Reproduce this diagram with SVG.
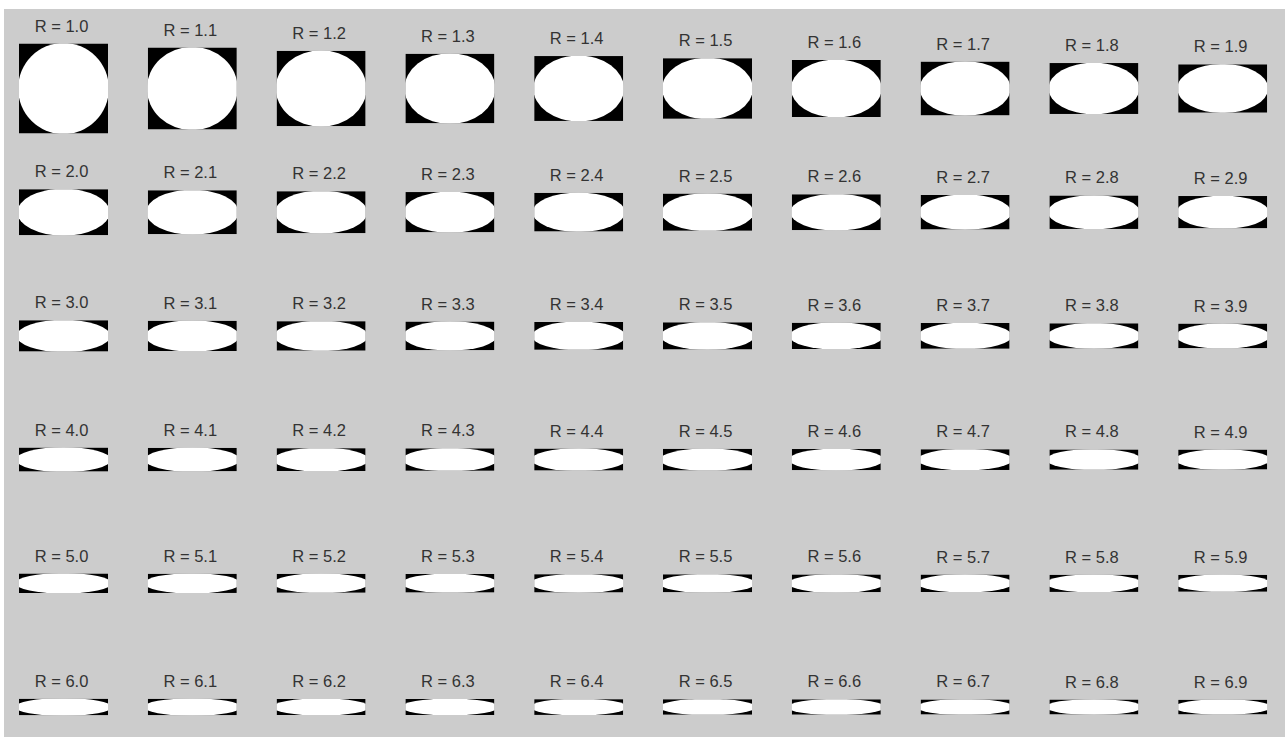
<svg xmlns="http://www.w3.org/2000/svg" width="1287" height="737" viewBox="0 0 1287 737">
<style>
.lb{font-family:"Liberation Sans",Arial,sans-serif;font-size:16.5px;fill:#333333;text-anchor:middle}
.bx{fill:#000000}
.el{fill:#ffffff}
</style>
<rect width="1287" height="737" fill="#ffffff"/>
<rect x="4" y="9" width="1281" height="728" fill="#cccccc"/>
<g id="connectors"/>
<!-- Row 1 -->
<g id="r1_0"><text class="lb" x="61.5" y="31.5">R = 1.0</text><svg x="19" y="43.5" width="89" height="90" viewBox="0 0 2 2" preserveAspectRatio="none"><rect class="bx" width="2" height="2"/><ellipse class="el" cx="1" cy="1" rx="1.02" ry="1.015"/></svg></g>
<g id="r1_1"><text class="lb" x="190.3" y="35.5">R = 1.1</text><svg x="147.8" y="47.5" width="89" height="82" viewBox="0 0 2 2" preserveAspectRatio="none"><rect class="bx" width="2" height="2"/><ellipse class="el" cx="1" cy="1" rx="1.02" ry="1.015"/></svg></g>
<g id="r1_2"><text class="lb" x="319.1" y="38.83">R = 1.2</text><svg x="276.6" y="50.83" width="89" height="75.33" viewBox="0 0 2 2" preserveAspectRatio="none"><rect class="bx" width="2" height="2"/><ellipse class="el" cx="1" cy="1" rx="1.02" ry="1.015"/></svg></g>
<g id="r1_3"><text class="lb" x="447.9" y="41.65">R = 1.3</text><svg x="405.4" y="53.65" width="89" height="69.69" viewBox="0 0 2 2" preserveAspectRatio="none"><rect class="bx" width="2" height="2"/><ellipse class="el" cx="1" cy="1" rx="1.02" ry="1.015"/></svg></g>
<g id="r1_4"><text class="lb" x="576.7" y="44.07">R = 1.4</text><svg x="534.2" y="56.07" width="89" height="64.86" viewBox="0 0 2 2" preserveAspectRatio="none"><rect class="bx" width="2" height="2"/><ellipse class="el" cx="1" cy="1" rx="1.02" ry="1.015"/></svg></g>
<g id="r1_5"><text class="lb" x="705.5" y="46.17">R = 1.5</text><svg x="663" y="58.17" width="89" height="60.67" viewBox="0 0 2 2" preserveAspectRatio="none"><rect class="bx" width="2" height="2"/><ellipse class="el" cx="1" cy="1" rx="1.02" ry="1.015"/></svg></g>
<g id="r1_6"><text class="lb" x="834.3" y="48">R = 1.6</text><svg x="791.8" y="60" width="89" height="57" viewBox="0 0 2 2" preserveAspectRatio="none"><rect class="bx" width="2" height="2"/><ellipse class="el" cx="1" cy="1" rx="1.02" ry="1.015"/></svg></g>
<g id="r1_7"><text class="lb" x="963.1" y="49.62">R = 1.7</text><svg x="920.6" y="61.62" width="89" height="53.76" viewBox="0 0 2 2" preserveAspectRatio="none"><rect class="bx" width="2" height="2"/><ellipse class="el" cx="1" cy="1" rx="1.02" ry="1.015"/></svg></g>
<g id="r1_8"><text class="lb" x="1091.9" y="51.06">R = 1.8</text><svg x="1049.4" y="63.06" width="89" height="50.89" viewBox="0 0 2 2" preserveAspectRatio="none"><rect class="bx" width="2" height="2"/><ellipse class="el" cx="1" cy="1" rx="1.02" ry="1.015"/></svg></g>
<g id="r1_9"><text class="lb" x="1220.7" y="52.34">R = 1.9</text><svg x="1178.2" y="64.34" width="89" height="48.32" viewBox="0 0 2 2" preserveAspectRatio="none"><rect class="bx" width="2" height="2"/><ellipse class="el" cx="1" cy="1" rx="1.02" ry="1.015"/></svg></g>
<!-- Row 2 -->
<g id="r2_0"><text class="lb" x="61.5" y="177.2">R = 2.0</text><svg x="19" y="189.2" width="89" height="46" viewBox="0 0 2 2" preserveAspectRatio="none"><rect class="bx" width="2" height="2"/><ellipse class="el" cx="1" cy="1" rx="1.035" ry="1.025"/></svg></g>
<g id="r2_1"><text class="lb" x="190.3" y="178.25">R = 2.1</text><svg x="147.8" y="190.25" width="89" height="43.9" viewBox="0 0 2 2" preserveAspectRatio="none"><rect class="bx" width="2" height="2"/><ellipse class="el" cx="1" cy="1" rx="1.035" ry="1.025"/></svg></g>
<g id="r2_2"><text class="lb" x="319.1" y="179.2">R = 2.2</text><svg x="276.6" y="191.2" width="89" height="42" viewBox="0 0 2 2" preserveAspectRatio="none"><rect class="bx" width="2" height="2"/><ellipse class="el" cx="1" cy="1" rx="1.035" ry="1.025"/></svg></g>
<g id="r2_3"><text class="lb" x="447.9" y="180.07">R = 2.3</text><svg x="405.4" y="192.07" width="89" height="40.26" viewBox="0 0 2 2" preserveAspectRatio="none"><rect class="bx" width="2" height="2"/><ellipse class="el" cx="1" cy="1" rx="1.035" ry="1.025"/></svg></g>
<g id="r2_4"><text class="lb" x="576.7" y="180.87">R = 2.4</text><svg x="534.2" y="192.87" width="89" height="38.67" viewBox="0 0 2 2" preserveAspectRatio="none"><rect class="bx" width="2" height="2"/><ellipse class="el" cx="1" cy="1" rx="1.035" ry="1.025"/></svg></g>
<g id="r2_5"><text class="lb" x="705.5" y="181.6">R = 2.5</text><svg x="663" y="193.6" width="89" height="37.2" viewBox="0 0 2 2" preserveAspectRatio="none"><rect class="bx" width="2" height="2"/><ellipse class="el" cx="1" cy="1" rx="1.035" ry="1.025"/></svg></g>
<g id="r2_6"><text class="lb" x="834.3" y="182.28">R = 2.6</text><svg x="791.8" y="194.28" width="89" height="35.85" viewBox="0 0 2 2" preserveAspectRatio="none"><rect class="bx" width="2" height="2"/><ellipse class="el" cx="1" cy="1" rx="1.035" ry="1.025"/></svg></g>
<g id="r2_7"><text class="lb" x="963.1" y="182.91">R = 2.7</text><svg x="920.6" y="194.91" width="89" height="34.59" viewBox="0 0 2 2" preserveAspectRatio="none"><rect class="bx" width="2" height="2"/><ellipse class="el" cx="1" cy="1" rx="1.035" ry="1.025"/></svg></g>
<g id="r2_8"><text class="lb" x="1091.9" y="183.49">R = 2.8</text><svg x="1049.4" y="195.49" width="89" height="33.43" viewBox="0 0 2 2" preserveAspectRatio="none"><rect class="bx" width="2" height="2"/><ellipse class="el" cx="1" cy="1" rx="1.035" ry="1.025"/></svg></g>
<g id="r2_9"><text class="lb" x="1220.7" y="184.03">R = 2.9</text><svg x="1178.2" y="196.03" width="89" height="32.34" viewBox="0 0 2 2" preserveAspectRatio="none"><rect class="bx" width="2" height="2"/><ellipse class="el" cx="1" cy="1" rx="1.035" ry="1.025"/></svg></g>
<!-- Row 3 -->
<g id="r3_0"><text class="lb" x="61.5" y="308.24">R = 3.0</text><svg x="19" y="320.24" width="89" height="31.33" viewBox="0 0 2 2" preserveAspectRatio="none"><rect class="bx" width="2" height="2"/><ellipse class="el" cx="1" cy="1" rx="1.05" ry="1.035"/></svg></g>
<g id="r3_1"><text class="lb" x="190.3" y="308.71">R = 3.1</text><svg x="147.8" y="320.71" width="89" height="30.39" viewBox="0 0 2 2" preserveAspectRatio="none"><rect class="bx" width="2" height="2"/><ellipse class="el" cx="1" cy="1" rx="1.05" ry="1.035"/></svg></g>
<g id="r3_2"><text class="lb" x="319.1" y="309.15">R = 3.2</text><svg x="276.6" y="321.15" width="89" height="29.5" viewBox="0 0 2 2" preserveAspectRatio="none"><rect class="bx" width="2" height="2"/><ellipse class="el" cx="1" cy="1" rx="1.05" ry="1.035"/></svg></g>
<g id="r3_3"><text class="lb" x="447.9" y="309.57">R = 3.3</text><svg x="405.4" y="321.57" width="89" height="28.67" viewBox="0 0 2 2" preserveAspectRatio="none"><rect class="bx" width="2" height="2"/><ellipse class="el" cx="1" cy="1" rx="1.05" ry="1.035"/></svg></g>
<g id="r3_4"><text class="lb" x="576.7" y="309.96">R = 3.4</text><svg x="534.2" y="321.96" width="89" height="27.88" viewBox="0 0 2 2" preserveAspectRatio="none"><rect class="bx" width="2" height="2"/><ellipse class="el" cx="1" cy="1" rx="1.05" ry="1.035"/></svg></g>
<g id="r3_5"><text class="lb" x="705.5" y="310.33">R = 3.5</text><svg x="663" y="322.33" width="89" height="27.14" viewBox="0 0 2 2" preserveAspectRatio="none"><rect class="bx" width="2" height="2"/><ellipse class="el" cx="1" cy="1" rx="1.05" ry="1.035"/></svg></g>
<g id="r3_6"><text class="lb" x="834.3" y="310.68">R = 3.6</text><svg x="791.8" y="322.68" width="89" height="26.44" viewBox="0 0 2 2" preserveAspectRatio="none"><rect class="bx" width="2" height="2"/><ellipse class="el" cx="1" cy="1" rx="1.05" ry="1.035"/></svg></g>
<g id="r3_7"><text class="lb" x="963.1" y="311.01">R = 3.7</text><svg x="920.6" y="323.01" width="89" height="25.78" viewBox="0 0 2 2" preserveAspectRatio="none"><rect class="bx" width="2" height="2"/><ellipse class="el" cx="1" cy="1" rx="1.05" ry="1.035"/></svg></g>
<g id="r3_8"><text class="lb" x="1091.9" y="311.32">R = 3.8</text><svg x="1049.4" y="323.32" width="89" height="25.16" viewBox="0 0 2 2" preserveAspectRatio="none"><rect class="bx" width="2" height="2"/><ellipse class="el" cx="1" cy="1" rx="1.05" ry="1.035"/></svg></g>
<g id="r3_9"><text class="lb" x="1220.7" y="311.62">R = 3.9</text><svg x="1178.2" y="323.62" width="89" height="24.56" viewBox="0 0 2 2" preserveAspectRatio="none"><rect class="bx" width="2" height="2"/><ellipse class="el" cx="1" cy="1" rx="1.05" ry="1.035"/></svg></g>
<!-- Row 4 -->
<g id="r4_0"><text class="lb" x="61.5" y="435.6">R = 4.0</text><svg x="19" y="447.6" width="89" height="24" viewBox="0 0 2 2" preserveAspectRatio="none"><rect class="bx" width="2" height="2"/><ellipse class="el" cx="1" cy="1" rx="1.065" ry="1.045"/></svg></g>
<g id="r4_1"><text class="lb" x="190.3" y="435.87">R = 4.1</text><svg x="147.8" y="447.87" width="89" height="23.46" viewBox="0 0 2 2" preserveAspectRatio="none"><rect class="bx" width="2" height="2"/><ellipse class="el" cx="1" cy="1" rx="1.065" ry="1.045"/></svg></g>
<g id="r4_2"><text class="lb" x="319.1" y="436.13">R = 4.2</text><svg x="276.6" y="448.13" width="89" height="22.95" viewBox="0 0 2 2" preserveAspectRatio="none"><rect class="bx" width="2" height="2"/><ellipse class="el" cx="1" cy="1" rx="1.065" ry="1.045"/></svg></g>
<g id="r4_3"><text class="lb" x="447.9" y="436.37">R = 4.3</text><svg x="405.4" y="448.37" width="89" height="22.47" viewBox="0 0 2 2" preserveAspectRatio="none"><rect class="bx" width="2" height="2"/><ellipse class="el" cx="1" cy="1" rx="1.065" ry="1.045"/></svg></g>
<g id="r4_4"><text class="lb" x="576.7" y="436.6">R = 4.4</text><svg x="534.2" y="448.6" width="89" height="22" viewBox="0 0 2 2" preserveAspectRatio="none"><rect class="bx" width="2" height="2"/><ellipse class="el" cx="1" cy="1" rx="1.065" ry="1.045"/></svg></g>
<g id="r4_5"><text class="lb" x="705.5" y="436.82">R = 4.5</text><svg x="663" y="448.82" width="89" height="21.56" viewBox="0 0 2 2" preserveAspectRatio="none"><rect class="bx" width="2" height="2"/><ellipse class="el" cx="1" cy="1" rx="1.065" ry="1.045"/></svg></g>
<g id="r4_6"><text class="lb" x="834.3" y="437.04">R = 4.6</text><svg x="791.8" y="449.04" width="89" height="21.13" viewBox="0 0 2 2" preserveAspectRatio="none"><rect class="bx" width="2" height="2"/><ellipse class="el" cx="1" cy="1" rx="1.065" ry="1.045"/></svg></g>
<g id="r4_7"><text class="lb" x="963.1" y="437.24">R = 4.7</text><svg x="920.6" y="449.24" width="89" height="20.72" viewBox="0 0 2 2" preserveAspectRatio="none"><rect class="bx" width="2" height="2"/><ellipse class="el" cx="1" cy="1" rx="1.065" ry="1.045"/></svg></g>
<g id="r4_8"><text class="lb" x="1091.9" y="437.44">R = 4.8</text><svg x="1049.4" y="449.44" width="89" height="20.33" viewBox="0 0 2 2" preserveAspectRatio="none"><rect class="bx" width="2" height="2"/><ellipse class="el" cx="1" cy="1" rx="1.065" ry="1.045"/></svg></g>
<g id="r4_9"><text class="lb" x="1220.7" y="437.62">R = 4.9</text><svg x="1178.2" y="449.62" width="89" height="19.96" viewBox="0 0 2 2" preserveAspectRatio="none"><rect class="bx" width="2" height="2"/><ellipse class="el" cx="1" cy="1" rx="1.065" ry="1.045"/></svg></g>
<!-- Row 5 -->
<g id="r5_0"><text class="lb" x="61.5" y="561.5">R = 5.0</text><svg x="19" y="573.5" width="89" height="19.6" viewBox="0 0 2 2" preserveAspectRatio="none"><rect class="bx" width="2" height="2"/><ellipse class="el" cx="1" cy="1" rx="1.08" ry="1.055"/></svg></g>
<g id="r5_1"><text class="lb" x="190.3" y="561.68">R = 5.1</text><svg x="147.8" y="573.68" width="89" height="19.25" viewBox="0 0 2 2" preserveAspectRatio="none"><rect class="bx" width="2" height="2"/><ellipse class="el" cx="1" cy="1" rx="1.08" ry="1.055"/></svg></g>
<g id="r5_2"><text class="lb" x="319.1" y="561.84">R = 5.2</text><svg x="276.6" y="573.84" width="89" height="18.92" viewBox="0 0 2 2" preserveAspectRatio="none"><rect class="bx" width="2" height="2"/><ellipse class="el" cx="1" cy="1" rx="1.08" ry="1.055"/></svg></g>
<g id="r5_3"><text class="lb" x="447.9" y="562">R = 5.3</text><svg x="405.4" y="574" width="89" height="18.6" viewBox="0 0 2 2" preserveAspectRatio="none"><rect class="bx" width="2" height="2"/><ellipse class="el" cx="1" cy="1" rx="1.08" ry="1.055"/></svg></g>
<g id="r5_4"><text class="lb" x="576.7" y="562.15">R = 5.4</text><svg x="534.2" y="574.15" width="89" height="18.3" viewBox="0 0 2 2" preserveAspectRatio="none"><rect class="bx" width="2" height="2"/><ellipse class="el" cx="1" cy="1" rx="1.08" ry="1.055"/></svg></g>
<g id="r5_5"><text class="lb" x="705.5" y="562.3">R = 5.5</text><svg x="663" y="574.3" width="89" height="18" viewBox="0 0 2 2" preserveAspectRatio="none"><rect class="bx" width="2" height="2"/><ellipse class="el" cx="1" cy="1" rx="1.08" ry="1.055"/></svg></g>
<g id="r5_6"><text class="lb" x="834.3" y="562.45">R = 5.6</text><svg x="791.8" y="574.45" width="89" height="17.71" viewBox="0 0 2 2" preserveAspectRatio="none"><rect class="bx" width="2" height="2"/><ellipse class="el" cx="1" cy="1" rx="1.08" ry="1.055"/></svg></g>
<g id="r5_7"><text class="lb" x="963.1" y="562.58">R = 5.7</text><svg x="920.6" y="574.58" width="89" height="17.44" viewBox="0 0 2 2" preserveAspectRatio="none"><rect class="bx" width="2" height="2"/><ellipse class="el" cx="1" cy="1" rx="1.08" ry="1.055"/></svg></g>
<g id="r5_8"><text class="lb" x="1091.9" y="562.72">R = 5.8</text><svg x="1049.4" y="574.72" width="89" height="17.17" viewBox="0 0 2 2" preserveAspectRatio="none"><rect class="bx" width="2" height="2"/><ellipse class="el" cx="1" cy="1" rx="1.08" ry="1.055"/></svg></g>
<g id="r5_9"><text class="lb" x="1220.7" y="562.84">R = 5.9</text><svg x="1178.2" y="574.84" width="89" height="16.92" viewBox="0 0 2 2" preserveAspectRatio="none"><rect class="bx" width="2" height="2"/><ellipse class="el" cx="1" cy="1" rx="1.08" ry="1.055"/></svg></g>
<!-- Row 6 -->
<g id="r6_0"><text class="lb" x="61.5" y="686.67">R = 6.0</text><svg x="19" y="698.67" width="89" height="16.67" viewBox="0 0 2 2" preserveAspectRatio="none"><rect class="bx" width="2" height="2"/><ellipse class="el" cx="1" cy="1" rx="1.095" ry="1.065"/></svg></g>
<g id="r6_1"><text class="lb" x="190.3" y="686.79">R = 6.1</text><svg x="147.8" y="698.79" width="89" height="16.43" viewBox="0 0 2 2" preserveAspectRatio="none"><rect class="bx" width="2" height="2"/><ellipse class="el" cx="1" cy="1" rx="1.095" ry="1.065"/></svg></g>
<g id="r6_2"><text class="lb" x="319.1" y="686.91">R = 6.2</text><svg x="276.6" y="698.91" width="89" height="16.19" viewBox="0 0 2 2" preserveAspectRatio="none"><rect class="bx" width="2" height="2"/><ellipse class="el" cx="1" cy="1" rx="1.095" ry="1.065"/></svg></g>
<g id="r6_3"><text class="lb" x="447.9" y="687.02">R = 6.3</text><svg x="405.4" y="699.02" width="89" height="15.97" viewBox="0 0 2 2" preserveAspectRatio="none"><rect class="bx" width="2" height="2"/><ellipse class="el" cx="1" cy="1" rx="1.095" ry="1.065"/></svg></g>
<g id="r6_4"><text class="lb" x="576.7" y="687.13">R = 6.4</text><svg x="534.2" y="699.13" width="89" height="15.75" viewBox="0 0 2 2" preserveAspectRatio="none"><rect class="bx" width="2" height="2"/><ellipse class="el" cx="1" cy="1" rx="1.095" ry="1.065"/></svg></g>
<g id="r6_5"><text class="lb" x="705.5" y="687.23">R = 6.5</text><svg x="663" y="699.23" width="89" height="15.54" viewBox="0 0 2 2" preserveAspectRatio="none"><rect class="bx" width="2" height="2"/><ellipse class="el" cx="1" cy="1" rx="1.095" ry="1.065"/></svg></g>
<g id="r6_6"><text class="lb" x="834.3" y="687.34">R = 6.6</text><svg x="791.8" y="699.34" width="89" height="15.33" viewBox="0 0 2 2" preserveAspectRatio="none"><rect class="bx" width="2" height="2"/><ellipse class="el" cx="1" cy="1" rx="1.095" ry="1.065"/></svg></g>
<g id="r6_7"><text class="lb" x="963.1" y="687.44">R = 6.7</text><svg x="920.6" y="699.44" width="89" height="15.13" viewBox="0 0 2 2" preserveAspectRatio="none"><rect class="bx" width="2" height="2"/><ellipse class="el" cx="1" cy="1" rx="1.095" ry="1.065"/></svg></g>
<g id="r6_8"><text class="lb" x="1091.9" y="687.53">R = 6.8</text><svg x="1049.4" y="699.53" width="89" height="14.94" viewBox="0 0 2 2" preserveAspectRatio="none"><rect class="bx" width="2" height="2"/><ellipse class="el" cx="1" cy="1" rx="1.095" ry="1.065"/></svg></g>
<g id="r6_9"><text class="lb" x="1220.7" y="687.63">R = 6.9</text><svg x="1178.2" y="699.63" width="89" height="14.75" viewBox="0 0 2 2" preserveAspectRatio="none"><rect class="bx" width="2" height="2"/><ellipse class="el" cx="1" cy="1" rx="1.095" ry="1.065"/></svg></g>
</svg>
